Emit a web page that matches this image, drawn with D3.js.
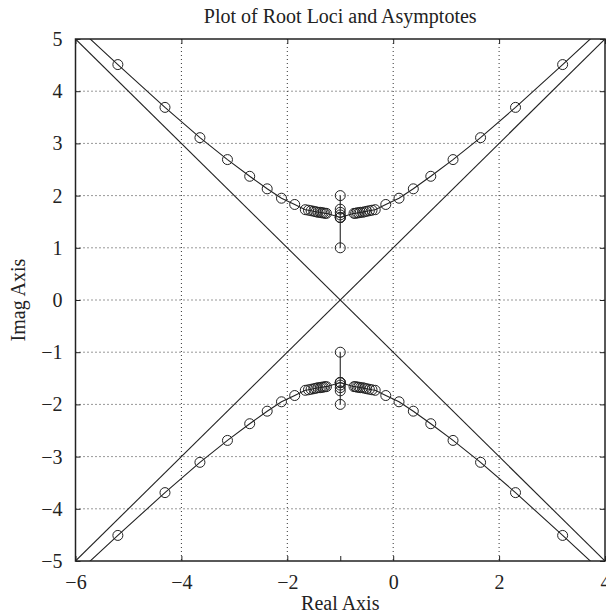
<!DOCTYPE html>
<html>
<head>
<meta charset="utf-8">
<script src="https://cdn.jsdelivr.net/npm/d3@7"></script>
<style>
  html, body { margin: 0; padding: 0; background: #fff; }
  svg { display: block; }
  text { font-family: "Liberation Serif", "Times New Roman", serif; fill: #222; }
</style>
</head>
<body>
<svg id="chart" width="606" height="615"></svg>
<script>
// ---- data ----
const xTicks = [-6, -4, -2, 0, 2, 4];
const yTicks = [-5, -4, -3, -2, -1, 0, 1, 2, 3, 4, 5];
const xGrid = [-4, -2, 0, 2];
const yGrid = [-4, -3, -2, -1, 0, 1, 2, 3, 4];
const extraBottomTicks = [-1];

// vertical locus segments between the open-loop poles
const vertUpperX = [-1, -1, -1, -1, -1, -1];
const vertUpperY = [2.00, 1.74, 1.68, 1.63, 1.58, 1.00];
const vertLowerX = [-1, -1, -1, -1, -1, -1];
const vertLowerY = [-2.00, -1.74, -1.68, -1.63, -1.58, -1.00];

// branches leaving the breakaway point
const rightX = [-1.00, -0.74, -0.71, -0.68, -0.65, -0.62, -0.58, -0.54, -0.50, -0.45, -0.40, -0.34, -0.14, 0.11, 0.38, 0.71, 1.13, 1.65, 2.31, 3.20, 4.50];
const leftX  = [-1.00, -1.26, -1.29, -1.32, -1.35, -1.38, -1.42, -1.46, -1.50, -1.55, -1.60, -1.66, -1.86, -2.11, -2.38, -2.71, -3.13, -3.65, -4.31, -5.20, -6.50];
const upperY = [1.58, 1.66, 1.66, 1.67, 1.67, 1.68, 1.68, 1.69, 1.70, 1.71, 1.72, 1.73, 1.83, 1.95, 2.13, 2.37, 2.69, 3.11, 3.69, 4.51, 5.73];
const lowerY = [-1.58, -1.66, -1.66, -1.67, -1.67, -1.68, -1.68, -1.69, -1.70, -1.71, -1.72, -1.73, -1.83, -1.95, -2.13, -2.37, -2.69, -3.11, -3.69, -4.51, -5.73];

// asymptotes (through centroid -1 at ±45°)
const asym1X = [-6, 4], asym1Y = [5, -5];
const asym2X = [-6, 4], asym2Y = [-5, 5];

const title = "Plot of Root Loci and Asymptotes";
const xLabel = "Real Axis";
const yLabel = "Imag Axis";

// ---- layout ----
const L = 75.5, R = 605, T = 39, B = 561;
const x = d3.scaleLinear().domain([-6, 4]).range([L, R]);
const y = d3.scaleLinear().domain([-5, 5]).range([B, T]);
const fmt = v => (v < 0 ? "\u2212" + Math.abs(v) : String(v));

const svg = d3.select("#chart");

svg.append("defs").append("clipPath").attr("id", "clip")
  .append("rect").attr("x", L).attr("y", T).attr("width", R - L).attr("height", B - T);

// grid
const grid = svg.append("g").attr("class", "grid");
grid.selectAll("line.gx").data(xGrid).join("line")
  .attr("x1", d => x(d)).attr("x2", d => x(d)).attr("y1", T).attr("y2", B)
  .attr("stroke", "#333").attr("stroke-width", 1).attr("stroke-dasharray", "1,3");
grid.selectAll("line.gy").data(yGrid).join("line")
  .attr("y1", d => y(d)).attr("y2", d => y(d)).attr("x1", L).attr("x2", R)
  .attr("stroke", "#333").attr("stroke-width", 1).attr("stroke-dasharray", "1,3");

// axes (ticks inward on all sides)
const tickLen = 5;
const gB = svg.append("g").attr("transform", `translate(0,${B})`)
  .call(d3.axisBottom(x).tickValues(xTicks).tickSize(-tickLen).tickPadding(14).tickFormat(fmt));
const gB2 = svg.append("g").attr("transform", `translate(0,${B})`)
  .call(d3.axisBottom(x).tickValues(extraBottomTicks).tickSize(-tickLen).tickFormat(""));
const gT = svg.append("g").attr("transform", `translate(0,${T})`)
  .call(d3.axisTop(x).tickValues(xTicks).tickSize(-tickLen).tickFormat(""));
const gL = svg.append("g").attr("transform", `translate(${L},0)`)
  .call(d3.axisLeft(y).tickValues(yTicks).tickSize(-tickLen).tickPadding(13).tickFormat(fmt));
const gR = svg.append("g").attr("transform", `translate(${R},0)`)
  .call(d3.axisRight(y).tickValues(yTicks).tickSize(-tickLen).tickFormat(""));
[gB, gB2, gT, gL, gR].forEach(g => {
  g.select(".domain").remove();
  g.selectAll(".tick line").attr("stroke", "#222").attr("stroke-width", 1);
  g.selectAll(".tick text").attr("font-size", 20).attr("fill", "#222")
    .style("font-family", '"Liberation Serif", "Times New Roman", serif');
});

// plot content
const plot = svg.append("g").attr("clip-path", "url(#clip)");
const line = d3.line().x(d => x(d[0])).y(d => y(d[1]));
const zip = (xs, ys) => xs.map((v, i) => [v, ys[i]]);

[[asym1X, asym1Y], [asym2X, asym2Y]].forEach(([xs, ys]) => {
  plot.append("path").datum(zip(xs, ys)).attr("d", line)
    .attr("fill", "none").attr("stroke", "#222").attr("stroke-width", 1.1);
});

const branches = [
  [vertUpperX, vertUpperY], [vertLowerX, vertLowerY],
  [rightX, upperY], [leftX, upperY], [rightX, lowerY], [leftX, lowerY]
];
branches.forEach(([xs, ys]) => {
  const pts = zip(xs, ys);
  plot.append("path").datum(pts).attr("d", line)
    .attr("fill", "none").attr("stroke", "#222").attr("stroke-width", 1.1);
  plot.append("g").selectAll("circle").data(pts).join("circle")
    .attr("cx", d => x(d[0])).attr("cy", d => y(d[1])).attr("r", 5)
    .attr("fill", "none").attr("stroke", "#222").attr("stroke-width", 1);
});

// frame
svg.append("rect").attr("x", L).attr("y", T).attr("width", R - L).attr("height", B - T)
  .attr("fill", "none").attr("stroke", "#222").attr("stroke-width", 1.5);

// labels
svg.append("text").attr("x", (L + R) / 2).attr("y", 23).attr("text-anchor", "middle")
  .attr("font-size", 20).text(title);
svg.append("text").attr("x", (L + R) / 2).attr("y", 610).attr("text-anchor", "middle")
  .attr("font-size", 20).text(xLabel);
svg.append("text").attr("transform", `translate(25,${(T + B) / 2}) rotate(-90)`)
  .attr("text-anchor", "middle").attr("font-size", 20).text(yLabel);
</script>
</body>
</html>
